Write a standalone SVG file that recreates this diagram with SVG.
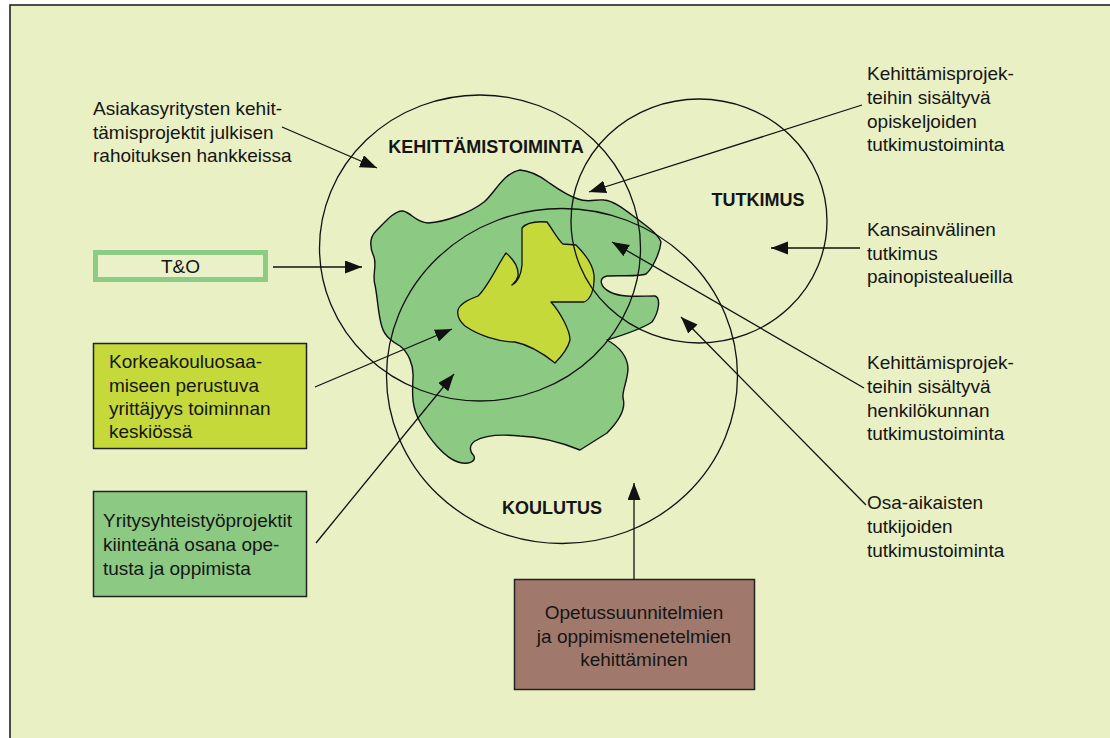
<svg xmlns="http://www.w3.org/2000/svg" width="1110" height="738" viewBox="0 0 1110 738">
  <defs>
    <marker id="arrow" markerUnits="userSpaceOnUse" markerWidth="18" markerHeight="14" refX="17" refY="6.5" orient="auto">
      <path d="M0,0 L17,6.5 L0,13 Z" fill="#111"/>
    </marker>
    <style>
      .txt { font-family: "Liberation Sans", Arial, sans-serif; font-size: 19px; fill: #151515; }
      .title { font-family: "Liberation Sans", Arial, sans-serif; font-size: 18px; font-weight: bold; fill: #151515; }
      .ring { fill: none; stroke: #111; stroke-width: 1.3; }
      .conn { fill: none; stroke: #111; stroke-width: 1.3; marker-end: url(#arrow); }
      .box { stroke: #222; stroke-width: 1.5; }
    </style>
  </defs>

  <!-- page and frame -->
  <rect x="0" y="0" width="1110" height="738" fill="#ffffff"/>
  <rect x="10" y="5" width="1110" height="745" fill="#e9f0c4" stroke="#222" stroke-width="1.6"/>

  <!-- shared green area -->
  <g id="area-green">
    <path fill="#8cca84" stroke="#111" stroke-width="1.4" stroke-linejoin="round"
      d="M520,170 C532,171 540,176 548,182 C558,189 566,195 578,199 C588,203 596,199 604,200
         C614,201 624,209 636,218 C648,227 658,234 661,242 C660,252 653,268 646,274
         C638,277 620,275 607,276 C598,278 600,287 610,292 C622,298 640,296 655,296
         C661,298 659,312 652,322 C640,330 620,336 607,340
         C618,346 627,355 628,368 C628,380 622,390 623,398 C626,408 620,420 607,433
         L580,450 C565,444 545,437 520,436 C500,434 485,435 475,441
         C468,446 470,452 474,456 C476,462 468,465 458,462 C445,458 430,440 420,422
         C412,408 412,395 413,378 C414,365 408,352 400,346
         C393,342 385,337 382,327 C378,315 378,300 375,285 C372,275 377,266 374,257
         C370,248 369,238 376,231 C385,222 395,210 403,211 C412,213 415,222 428,223
         C445,222 470,213 484,202 C495,193 503,173 520,170 Z"/>
  </g>

  <!-- core yellow area -->
  <g id="area-core">
    <path fill="#c5d93a" stroke="#111" stroke-width="1.3" stroke-linejoin="round"
      d="M458,310 C460,303 470,299 478,296 C488,287 498,264 506,253
         C512,258 519,266 518,276 C517,281 514,283 512,285
         C518,282 521,276 522,265 L522,228 C526,223 535,221 547,222
         C553,230 558,240 563,244 L576,245 C584,253 593,265 594,275
         C595,290 590,300 584,302 L551,302 C560,312 570,330 570,340
         C568,348 560,358 555,363 C545,355 530,345 515,342
         C498,342 478,335 465,326 C458,320 457,315 458,310 Z"/>
  </g>

  <!-- three activity circles -->
  <g id="circle-kehittamistoiminta">
    <ellipse class="ring" cx="480" cy="248" rx="160.5" ry="153"/>
    <text class="title" x="486" y="153" text-anchor="middle">KEHITTÄMISTOIMINTA</text>
  </g>
  <g id="circle-tutkimus">
    <ellipse class="ring" cx="699" cy="221" rx="128" ry="122"/>
    <text class="title" x="758" y="206" text-anchor="middle">TUTKIMUS</text>
  </g>
  <g id="circle-koulutus">
    <ellipse class="ring" cx="562" cy="376" rx="175.5" ry="167.5"/>
    <text class="title" x="552" y="514" text-anchor="middle">KOULUTUS</text>
  </g>

  <!-- left-hand labels -->
  <g id="label-asiakasyritysten">
    <text class="txt" x="93" y="115">Asiakasyritysten kehit-</text>
    <text class="txt" x="93" y="139">tämisprojektit julkisen</text>
    <text class="txt" x="93" y="162">rahoituksen hankkeissa</text>
  </g>
  <g id="box-to">
    <rect x="95.5" y="252.5" width="170" height="27" fill="#eaf1c8" stroke="#8dcc84" stroke-width="5"/>
    <text class="txt" x="180.5" y="273" text-anchor="middle">T&amp;O</text>
  </g>
  <g id="box-korkeakoulu">
    <rect class="box" x="93.5" y="343.5" width="213" height="105" fill="#c5d93a"/>
    <text class="txt" x="109" y="368">Korkeakouluosaa-</text>
    <text class="txt" x="109" y="392">miseen perustuva</text>
    <text class="txt" x="109" y="415">yrittäjyys toiminnan</text>
    <text class="txt" x="109" y="438">keskiössä</text>
  </g>
  <g id="box-yritysyhteistyo">
    <rect class="box" x="93.5" y="491.5" width="213" height="105" fill="#8cca84"/>
    <text class="txt" x="103" y="527">Yritysyhteistyöprojektit</text>
    <text class="txt" x="103" y="551">kiinteänä osana ope-</text>
    <text class="txt" x="103" y="575">tusta ja oppimista</text>
  </g>
  <g id="box-opetussuunnitelmat">
    <rect class="box" x="514.5" y="579.5" width="240" height="110" fill="#a0796c"/>
    <text class="txt" x="634" y="619" text-anchor="middle">Opetussuunnitelmien</text>
    <text class="txt" x="634" y="643" text-anchor="middle">ja oppimismenetelmien</text>
    <text class="txt" x="634" y="666" text-anchor="middle">kehittäminen</text>
  </g>

  <!-- right-hand labels -->
  <g id="label-opiskelijat">
    <text class="txt" x="867" y="80">Kehittämisprojek-</text>
    <text class="txt" x="867" y="104">teihin sisältyvä</text>
    <text class="txt" x="867" y="128">opiskeljoiden</text>
    <text class="txt" x="867" y="151">tutkimustoiminta</text>
  </g>
  <g id="label-kansainvalinen">
    <text class="txt" x="867" y="236">Kansainvälinen</text>
    <text class="txt" x="867" y="260">tutkimus</text>
    <text class="txt" x="867" y="283">painopistealueilla</text>
  </g>
  <g id="label-henkilokunta">
    <text class="txt" x="867" y="369">Kehittämisprojek-</text>
    <text class="txt" x="867" y="393">teihin sisältyvä</text>
    <text class="txt" x="867" y="417">henkilökunnan</text>
    <text class="txt" x="867" y="440">tutkimustoiminta</text>
  </g>
  <g id="label-osa-aikaiset">
    <text class="txt" x="867" y="509">Osa-aikaisten</text>
    <text class="txt" x="867" y="533">tutkijoiden</text>
    <text class="txt" x="867" y="557">tutkimustoiminta</text>
  </g>

  <!-- connectors -->
  <g id="connectors">
    <line class="conn" x1="282" y1="127" x2="377" y2="168"/>
    <line class="conn" x1="273" y1="267" x2="362" y2="267"/>
    <line class="conn" x1="315" y1="387" x2="452" y2="329"/>
    <line class="conn" x1="316" y1="543" x2="454" y2="374"/>
    <line class="conn" x1="862" y1="105" x2="589" y2="192"/>
    <line class="conn" x1="860" y1="248" x2="771" y2="248"/>
    <line class="conn" x1="864" y1="388" x2="612" y2="242"/>
    <line class="conn" x1="866" y1="505" x2="681" y2="317"/>
    <line class="conn" x1="634" y1="579" x2="634" y2="483"/>
  </g>
</svg>
